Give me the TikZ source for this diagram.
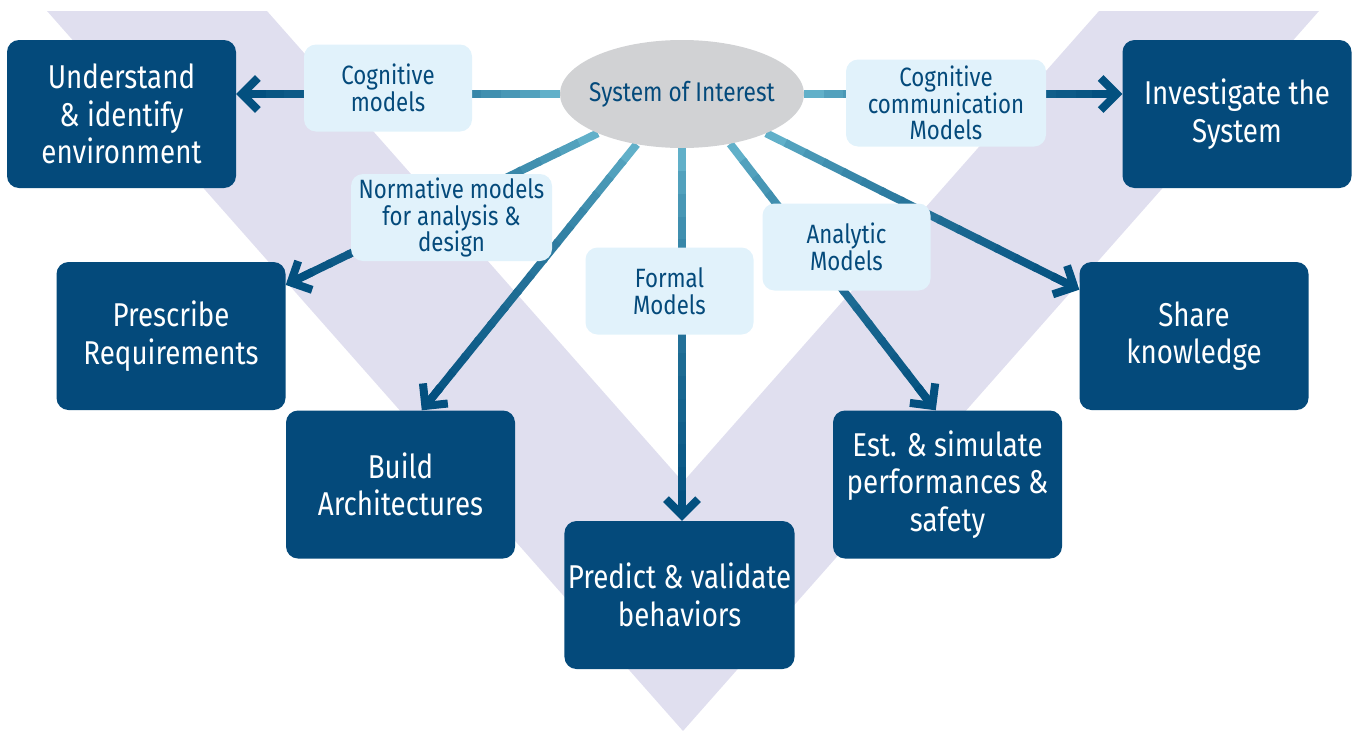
\documentclass[tikz,border=0pt]{standalone}
\usepackage{fontspec}
\setmainfont[FakeStretch=0.84]{Fira Sans}
\usetikzlibrary{arrows.meta,calc,shapes.geometric,backgrounds}

\definecolor{boxblue}{RGB}{4,74,123}
\definecolor{labelfill}{RGB}{225,242,251}
\definecolor{soigrey}{RGB}{209,210,212}
\definecolor{vshade}{RGB}{224,223,239}
\definecolor{ltline}{RGB}{116,196,216}
\definecolor{dkline}{RGB}{3,80,127}

\tikzset{
  task/.style={rectangle, rounded corners=12pt, fill=boxblue, text=white, align=center,
    minimum width=229pt, minimum height=148pt, font=\fontsize{33}{37.5}\selectfont},
  modelbox/.style={rectangle, rounded corners=12pt, fill=labelfill, text=boxblue, align=center,
    minimum width=168pt, minimum height=87pt, font=\fontsize{26.5}{26.5}\selectfont},
  link/.style={line width=8pt},
  arrowhd/.style={-{Straight Barb[length=16pt,width=32pt,sharp]}},
}

% gradient line: from, to, start mix, end mix
\newcommand\gradline[4]{%
  \foreach \k in {1,...,16}{
    \pgfmathsetmacro\ta{(\k-1)/16}
    \pgfmathsetmacro\tb{min(1,\k/16+0.01)}
    \pgfmathtruncatemacro\mix{#3+(#4-#3)*sqrt((\k-0.5)/16)}
    \draw[link, draw=dkline!\mix!ltline] ($#1!\ta!#2$) -- ($#1!\tb!#2$);
  }}
\newcommand\gradarrow[4]{%
  \coordinate (gend) at ($#2!8pt!#1$);
  \gradline{#1}{(gend)}{#3}{#4}
  \draw[link, dkline, arrowhd] ($#2!30pt!#1$) -- #2;}

\begin{document}
\begin{tikzpicture}[x=1pt, y=-1pt]
  \useasboundingbox (0,0) rectangle (1355,731);

  % tasks
  \node[task] (env) at (121.5,114) {Understand\\ \& identify\\ environment};
  \node[task] (inv) at (1237,114) {Investigate the\\ System};
  \node[task] (req) at (171,336) {Prescribe\\ Requirements};
  \node[task] (arch) at (400.5,484.5) {Build\\ Architectures};
  \node[task] (beh) at (679.5,595) {Predict \& validate\\ behaviors};
  \node[task] (perf) at (947.5,484.5) {Est. \& simulate\\ performances \&\\ safety};
  \node[task] (know) at (1194,336) {Share\\ knowledge};

  % system of interest
  \node[ellipse, fill=soigrey, minimum width=244pt, minimum height=108pt,
    label={[text=boxblue, font=\fontsize{27}{28}\selectfont]center:System of Interest}] (soi) at (682,94) {};

  % models
  \node[modelbox] (cog) at (388,88) {Cognitive\\ models};
  \node[modelbox, minimum width=201pt] (norm) at (451.5,217.5) {Normative models\\ for analysis \&\\ design};
  \node[modelbox] (formal) at (669.5,291) {Formal\\ Models};
  \node[modelbox, minimum width=200pt] (comm) at (946,103) {Cognitive\\ communication\\ Models};
  \node[modelbox] (ana) at (846.5,247) {Analytic\\ Models};

  \begin{scope}[on background layer]
    \fill[vshade] (47,11) -- (267,11) -- (683,482) -- (1099,11) -- (1319,11) -- (683,731) -- cycle;

    \gradarrow{(soi.west)}{(soi.west -| env.east)}{0}{100}
    \gradarrow{(soi.east)}{(soi.east -| inv.west)}{0}{100}
    \gradarrow{(soi.205)}{(req.24)}{0}{100}
    \gradarrow{(soi.228)}{(arch.74)}{0}{100}
    \gradarrow{(soi.south)}{(soi.south |- beh.north)}{0}{100}
    \gradarrow{(soi.314)}{(perf.99)}{0}{100}
    \gradarrow{(soi.335)}{(know.158)}{0}{100}
  \end{scope}
\end{tikzpicture}
\end{document}
